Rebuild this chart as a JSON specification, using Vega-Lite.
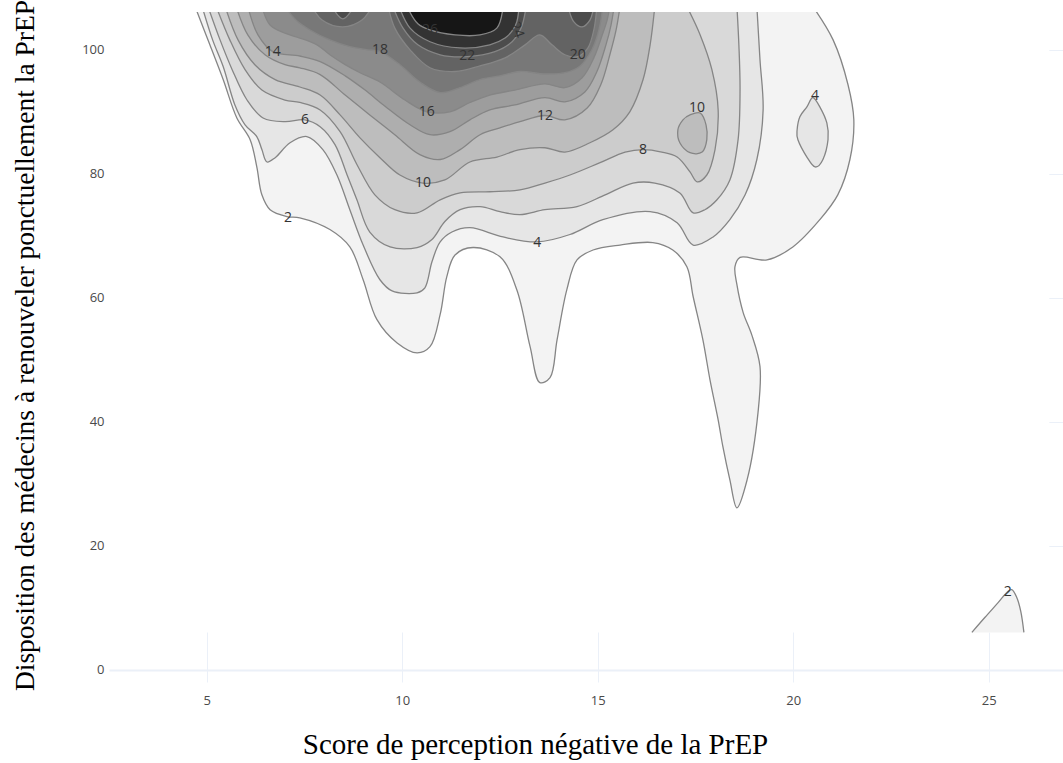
{
"$schema": "https://vega.github.io/schema/vega-lite/v6.json",
"width": 954, "height": 670,
"autosize": {"type": "none"},
"padding": {"left": 109, "top": 12, "right": 0, "bottom": 81},
"background": "white",
"config": {
 "view": {"stroke": null},
 "axis": {"domain": false, "ticks": false, "tickSize": 0, "grid": true, "gridColor": "#ebf0f8", "labelFont": "Open Sans", "labelFontSize": 13, "labelColor": "#4a4a4a", "titleFont": "Liberation Serif", "titleFontWeight": "normal", "titleColor": "#000000"},
 "axisX": {"labelPadding": 12, "titleX": 426, "titleY": 71, "titleAlign": "center", "titleBaseline": "alphabetic", "titleFontSize": 29},
 "axisY": {"labelPadding": 5, "titleX": -84, "titleY": 333, "titleAngle": -90, "titleAlign": "center", "titleBaseline": "middle", "titleFontSize": 27.5}
},
"datasets": {
 "region": [{"x": 2.5, "x2": 26.55, "y": 6, "y2": 106.1}],
 "contours": [
  {"p":"L02a","lv":2,"i":0,"x":4.70,"y":107},{"p":"L02a","lv":2,"i":1,"x":5.08,"y":100.8},{"p":"L02a","lv":2,"i":2,"x":5.42,"y":95.2},{"p":"L02a","lv":2,"i":3,"x":5.77,"y":89.0},{"p":"L02a","lv":2,"i":4,"x":6.11,"y":85.5},{"p":"L02a","lv":2,"i":5,"x":6.28,"y":81.1},{"p":"L02a","lv":2,"i":6,"x":6.41,"y":76.6},{"p":"L02a","lv":2,"i":7,"x":6.62,"y":74.2},{"p":"L02a","lv":2,"i":8,"x":7.05,"y":73.1},{"p":"L02a","lv":2,"i":9,"x":7.38,"y":72.9},{"p":"L02a","lv":2,"i":10,"x":8.15,"y":71.0},{"p":"L02a","lv":2,"i":11,"x":8.66,"y":68.2},{"p":"L02a","lv":2,"i":12,"x":9.00,"y":62.9},{"p":"L02a","lv":2,"i":13,"x":9.35,"y":56.5},{"p":"L02a","lv":2,"i":14,"x":9.87,"y":52.7},{"p":"L02a","lv":2,"i":15,"x":10.38,"y":51.1},{"p":"L02a","lv":2,"i":16,"x":10.71,"y":52.1},{"p":"L02a","lv":2,"i":17,"x":10.97,"y":57.3},{"p":"L02a","lv":2,"i":18,"x":11.14,"y":63.4},{"p":"L02a","lv":2,"i":19,"x":11.35,"y":66.9},{"p":"L02a","lv":2,"i":20,"x":11.81,"y":68.1},{"p":"L02a","lv":2,"i":21,"x":12.50,"y":66.6},{"p":"L02a","lv":2,"i":22,"x":12.93,"y":61.3},{"p":"L02a","lv":2,"i":23,"x":13.27,"y":52.1},{"p":"L02a","lv":2,"i":24,"x":13.52,"y":46.3},{"p":"L02a","lv":2,"i":25,"x":13.78,"y":47.1},{"p":"L02a","lv":2,"i":26,"x":13.96,"y":53.2},{"p":"L02a","lv":2,"i":27,"x":14.21,"y":61.3},{"p":"L02a","lv":2,"i":28,"x":14.47,"y":66.1},{"p":"L02a","lv":2,"i":29,"x":14.88,"y":67.7},{"p":"L02a","lv":2,"i":30,"x":15.57,"y":68.5},{"p":"L02a","lv":2,"i":31,"x":16.41,"y":68.9},{"p":"L02a","lv":2,"i":32,"x":16.92,"y":67.7},{"p":"L02a","lv":2,"i":33,"x":17.28,"y":65.0},{"p":"L02a","lv":2,"i":34,"x":17.44,"y":60.2},{"p":"L02a","lv":2,"i":35,"x":17.69,"y":53.2},{"p":"L02a","lv":2,"i":36,"x":17.87,"y":46.8},{"p":"L02a","lv":2,"i":37,"x":18.08,"y":40.3},{"p":"L02a","lv":2,"i":38,"x":18.20,"y":36.0},{"p":"L02a","lv":2,"i":39,"x":18.38,"y":30.6},{"p":"L02a","lv":2,"i":40,"x":18.56,"y":26.1},{"p":"L02a","lv":2,"i":41,"x":18.82,"y":30.6},{"p":"L02a","lv":2,"i":42,"x":19.10,"y":41.5},{"p":"L02a","lv":2,"i":43,"x":19.15,"y":48.9},{"p":"L02a","lv":2,"i":44,"x":18.94,"y":54.0},{"p":"L02a","lv":2,"i":45,"x":18.72,"y":57.6},{"p":"L02a","lv":2,"i":46,"x":18.56,"y":62.1},{"p":"L02a","lv":2,"i":47,"x":18.51,"y":65.0},{"p":"L02a","lv":2,"i":48,"x":18.64,"y":66.5},{"p":"L02a","lv":2,"i":49,"x":19.33,"y":66.1},{"p":"L02a","lv":2,"i":50,"x":19.99,"y":68.2},{"p":"L02a","lv":2,"i":51,"x":20.68,"y":72.6},{"p":"L02a","lv":2,"i":52,"x":21.14,"y":76.6},{"p":"L02a","lv":2,"i":53,"x":21.45,"y":82.3},{"p":"L02a","lv":2,"i":54,"x":21.55,"y":88.7},{"p":"L02a","lv":2,"i":55,"x":21.40,"y":94.4},{"p":"L02a","lv":2,"i":56,"x":21.02,"y":101.6},{"p":"L02a","lv":2,"i":57,"x":20.50,"y":107},
  {"p":"L02b","lv":2,"i":0,"x":24.57,"y":6.0},{"p":"L02b","lv":2,"i":1,"x":24.90,"y":8.4},{"p":"L02b","lv":2,"i":2,"x":25.24,"y":10.8},{"p":"L02b","lv":2,"i":3,"x":25.49,"y":12.6},{"p":"L02b","lv":2,"i":4,"x":25.59,"y":12.9},{"p":"L02b","lv":2,"i":5,"x":25.72,"y":11.6},{"p":"L02b","lv":2,"i":6,"x":25.82,"y":9.4},{"p":"L02b","lv":2,"i":7,"x":25.90,"y":6.0},
  {"p":"L04a","lv":4,"i":0,"x":4.88,"y":107},{"p":"L04a","lv":4,"i":1,"x":5.15,"y":101.6},{"p":"L04a","lv":4,"i":2,"x":5.42,"y":97.3},{"p":"L04a","lv":4,"i":3,"x":5.72,"y":91.1},{"p":"L04a","lv":4,"i":4,"x":5.98,"y":87.9},{"p":"L04a","lv":4,"i":5,"x":6.28,"y":86.0},{"p":"L04a","lv":4,"i":6,"x":6.41,"y":83.9},{"p":"L04a","lv":4,"i":7,"x":6.54,"y":81.9},{"p":"L04a","lv":4,"i":8,"x":6.75,"y":82.6},{"p":"L04a","lv":4,"i":9,"x":7.13,"y":85.0},{"p":"L04a","lv":4,"i":10,"x":7.56,"y":86.0},{"p":"L04a","lv":4,"i":11,"x":7.97,"y":83.9},{"p":"L04a","lv":4,"i":12,"x":8.33,"y":79.8},{"p":"L04a","lv":4,"i":13,"x":8.66,"y":74.2},{"p":"L04a","lv":4,"i":14,"x":9.00,"y":68.5},{"p":"L04a","lv":4,"i":15,"x":9.43,"y":62.9},{"p":"L04a","lv":4,"i":16,"x":9.74,"y":61.1},{"p":"L04a","lv":4,"i":17,"x":10.38,"y":60.8},{"p":"L04a","lv":4,"i":18,"x":10.58,"y":61.6},{"p":"L04a","lv":4,"i":19,"x":10.76,"y":65.8},{"p":"L04a","lv":4,"i":20,"x":10.97,"y":69.0},{"p":"L04a","lv":4,"i":21,"x":11.27,"y":70.6},{"p":"L04a","lv":4,"i":22,"x":11.73,"y":71.3},{"p":"L04a","lv":4,"i":23,"x":12.58,"y":69.8},{"p":"L04a","lv":4,"i":24,"x":13.45,"y":69.0},{"p":"L04a","lv":4,"i":25,"x":14.29,"y":70.2},{"p":"L04a","lv":4,"i":26,"x":15.13,"y":72.6},{"p":"L04a","lv":4,"i":27,"x":16.34,"y":73.9},{"p":"L04a","lv":4,"i":28,"x":17.03,"y":72.1},{"p":"L04a","lv":4,"i":29,"x":17.44,"y":68.5},{"p":"L04a","lv":4,"i":30,"x":17.95,"y":69.8},{"p":"L04a","lv":4,"i":31,"x":18.38,"y":72.6},{"p":"L04a","lv":4,"i":32,"x":18.77,"y":76.6},{"p":"L04a","lv":4,"i":33,"x":19.07,"y":82.3},{"p":"L04a","lv":4,"i":34,"x":19.23,"y":90.3},{"p":"L04a","lv":4,"i":35,"x":19.15,"y":98.4},{"p":"L04a","lv":4,"i":36,"x":19.07,"y":107},
  {"p":"L06a","lv":6,"i":0,"x":5.03,"y":107},{"p":"L06a","lv":6,"i":1,"x":5.34,"y":101.6},{"p":"L06a","lv":6,"i":2,"x":5.65,"y":96.8},{"p":"L06a","lv":6,"i":3,"x":6.03,"y":91.9},{"p":"L06a","lv":6,"i":4,"x":6.44,"y":89.0},{"p":"L06a","lv":6,"i":5,"x":7.00,"y":88.4},{"p":"L06a","lv":6,"i":6,"x":7.51,"y":88.7},{"p":"L06a","lv":6,"i":7,"x":7.90,"y":87.6},{"p":"L06a","lv":6,"i":8,"x":8.28,"y":84.7},{"p":"L06a","lv":6,"i":9,"x":8.59,"y":79.8},{"p":"L06a","lv":6,"i":10,"x":8.84,"y":75.8},{"p":"L06a","lv":6,"i":11,"x":9.17,"y":70.6},{"p":"L06a","lv":6,"i":12,"x":9.69,"y":68.2},{"p":"L06a","lv":6,"i":13,"x":10.38,"y":68.1},{"p":"L06a","lv":6,"i":14,"x":10.76,"y":69.4},{"p":"L06a","lv":6,"i":15,"x":11.09,"y":72.3},{"p":"L06a","lv":6,"i":16,"x":11.48,"y":74.2},{"p":"L06a","lv":6,"i":17,"x":11.99,"y":74.7},{"p":"L06a","lv":6,"i":18,"x":12.50,"y":73.9},{"p":"L06a","lv":6,"i":19,"x":13.01,"y":73.4},{"p":"L06a","lv":6,"i":20,"x":13.65,"y":74.2},{"p":"L06a","lv":6,"i":21,"x":14.47,"y":74.7},{"p":"L06a","lv":6,"i":22,"x":15.19,"y":76.6},{"p":"L06a","lv":6,"i":23,"x":15.90,"y":78.5},{"p":"L06a","lv":6,"i":24,"x":16.46,"y":78.5},{"p":"L06a","lv":6,"i":25,"x":17.10,"y":76.9},{"p":"L06a","lv":6,"i":26,"x":17.44,"y":73.7},{"p":"L06a","lv":6,"i":27,"x":17.74,"y":74.2},{"p":"L06a","lv":6,"i":28,"x":18.05,"y":75.8},{"p":"L06a","lv":6,"i":29,"x":18.38,"y":79.0},{"p":"L06a","lv":6,"i":30,"x":18.59,"y":85.5},{"p":"L06a","lv":6,"i":31,"x":18.64,"y":93.5},{"p":"L06a","lv":6,"i":32,"x":18.61,"y":100.8},{"p":"L06a","lv":6,"i":33,"x":18.56,"y":107},
  {"p":"L08a","lv":8,"i":0,"x":5.24,"y":107},{"p":"L08a","lv":8,"i":1,"x":5.59,"y":101.6},{"p":"L08a","lv":8,"i":2,"x":5.98,"y":96.8},{"p":"L08a","lv":8,"i":3,"x":6.41,"y":93.5},{"p":"L08a","lv":8,"i":4,"x":7.00,"y":91.9},{"p":"L08a","lv":8,"i":5,"x":7.38,"y":91.5},{"p":"L08a","lv":8,"i":6,"x":7.90,"y":90.3},{"p":"L08a","lv":8,"i":7,"x":8.41,"y":86.8},{"p":"L08a","lv":8,"i":8,"x":8.84,"y":81.5},{"p":"L08a","lv":8,"i":9,"x":9.30,"y":76.6},{"p":"L08a","lv":8,"i":10,"x":9.81,"y":74.2},{"p":"L08a","lv":8,"i":11,"x":10.38,"y":73.7},{"p":"L08a","lv":8,"i":12,"x":10.97,"y":75.8},{"p":"L08a","lv":8,"i":13,"x":11.48,"y":76.9},{"p":"L08a","lv":8,"i":14,"x":12.24,"y":77.1},{"p":"L08a","lv":8,"i":15,"x":13.01,"y":77.4},{"p":"L08a","lv":8,"i":16,"x":13.65,"y":78.5},{"p":"L08a","lv":8,"i":17,"x":14.29,"y":79.8},{"p":"L08a","lv":8,"i":18,"x":15.06,"y":81.8},{"p":"L08a","lv":8,"i":19,"x":15.70,"y":83.5},{"p":"L08a","lv":8,"i":20,"x":16.16,"y":83.9},{"p":"L08a","lv":8,"i":21,"x":16.64,"y":83.5},{"p":"L08a","lv":8,"i":22,"x":17.03,"y":82.7},{"p":"L08a","lv":8,"i":23,"x":17.36,"y":80.3},{"p":"L08a","lv":8,"i":24,"x":17.54,"y":78.7},{"p":"L08a","lv":8,"i":25,"x":17.79,"y":79.8},{"p":"L08a","lv":8,"i":26,"x":18.00,"y":83.9},{"p":"L08a","lv":8,"i":27,"x":18.08,"y":90.3},{"p":"L08a","lv":8,"i":28,"x":17.92,"y":96.8},{"p":"L08a","lv":8,"i":29,"x":17.62,"y":102.4},{"p":"L08a","lv":8,"i":30,"x":17.28,"y":107},
  {"p":"L10a","lv":10,"i":0,"x":5.47,"y":107},{"p":"L10a","lv":10,"i":1,"x":5.80,"y":101.6},{"p":"L10a","lv":10,"i":2,"x":6.23,"y":97.6},{"p":"L10a","lv":10,"i":3,"x":6.75,"y":95.2},{"p":"L10a","lv":10,"i":4,"x":7.38,"y":94.0},{"p":"L10a","lv":10,"i":5,"x":7.90,"y":92.7},{"p":"L10a","lv":10,"i":6,"x":8.41,"y":89.5},{"p":"L10a","lv":10,"i":7,"x":8.92,"y":85.8},{"p":"L10a","lv":10,"i":8,"x":9.43,"y":82.6},{"p":"L10a","lv":10,"i":9,"x":9.94,"y":79.8},{"p":"L10a","lv":10,"i":10,"x":10.53,"y":78.5},{"p":"L10a","lv":10,"i":11,"x":11.09,"y":79.0},{"p":"L10a","lv":10,"i":12,"x":11.73,"y":81.9},{"p":"L10a","lv":10,"i":13,"x":12.42,"y":82.7},{"p":"L10a","lv":10,"i":14,"x":13.01,"y":83.9},{"p":"L10a","lv":10,"i":15,"x":13.65,"y":84.2},{"p":"L10a","lv":10,"i":16,"x":14.16,"y":83.5},{"p":"L10a","lv":10,"i":17,"x":14.80,"y":85.0},{"p":"L10a","lv":10,"i":18,"x":15.39,"y":87.1},{"p":"L10a","lv":10,"i":19,"x":15.82,"y":90.0},{"p":"L10a","lv":10,"i":20,"x":16.16,"y":95.2},{"p":"L10a","lv":10,"i":21,"x":16.34,"y":100.8},{"p":"L10a","lv":10,"i":22,"x":16.46,"y":107},
  {"p":"L12a","lv":12,"i":0,"x":5.75,"y":107},{"p":"L12a","lv":12,"i":1,"x":6.05,"y":102.4},{"p":"L12a","lv":12,"i":2,"x":6.49,"y":99.2},{"p":"L12a","lv":12,"i":3,"x":7.00,"y":97.6},{"p":"L12a","lv":12,"i":4,"x":7.38,"y":97.1},{"p":"L12a","lv":12,"i":5,"x":7.90,"y":96.0},{"p":"L12a","lv":12,"i":6,"x":8.54,"y":92.7},{"p":"L12a","lv":12,"i":7,"x":9.17,"y":89.5},{"p":"L12a","lv":12,"i":8,"x":9.81,"y":86.3},{"p":"L12a","lv":12,"i":9,"x":10.45,"y":83.1},{"p":"L12a","lv":12,"i":10,"x":10.97,"y":82.3},{"p":"L12a","lv":12,"i":11,"x":11.48,"y":83.9},{"p":"L12a","lv":12,"i":12,"x":11.99,"y":86.3},{"p":"L12a","lv":12,"i":13,"x":12.50,"y":87.4},{"p":"L12a","lv":12,"i":14,"x":13.01,"y":88.4},{"p":"L12a","lv":12,"i":15,"x":13.65,"y":89.4},{"p":"L12a","lv":12,"i":16,"x":14.16,"y":88.7},{"p":"L12a","lv":12,"i":17,"x":14.73,"y":90.6},{"p":"L12a","lv":12,"i":18,"x":15.08,"y":94.4},{"p":"L12a","lv":12,"i":19,"x":15.31,"y":99.2},{"p":"L12a","lv":12,"i":20,"x":15.47,"y":103.2},{"p":"L12a","lv":12,"i":21,"x":15.57,"y":107},
  {"p":"L14a","lv":14,"i":0,"x":6.05,"y":107},{"p":"L14a","lv":14,"i":1,"x":6.31,"y":102.4},{"p":"L14a","lv":14,"i":2,"x":6.69,"y":99.7},{"p":"L14a","lv":14,"i":3,"x":7.38,"y":99.0},{"p":"L14a","lv":14,"i":4,"x":7.90,"y":98.1},{"p":"L14a","lv":14,"i":5,"x":8.54,"y":95.8},{"p":"L14a","lv":14,"i":6,"x":9.05,"y":93.5},{"p":"L14a","lv":14,"i":7,"x":9.56,"y":90.9},{"p":"L14a","lv":14,"i":8,"x":10.20,"y":87.9},{"p":"L14a","lv":14,"i":9,"x":10.71,"y":86.3},{"p":"L14a","lv":14,"i":10,"x":11.22,"y":86.8},{"p":"L14a","lv":14,"i":11,"x":11.73,"y":88.7},{"p":"L14a","lv":14,"i":12,"x":12.24,"y":90.3},{"p":"L14a","lv":14,"i":13,"x":12.88,"y":91.1},{"p":"L14a","lv":14,"i":14,"x":13.65,"y":92.3},{"p":"L14a","lv":14,"i":15,"x":14.16,"y":91.6},{"p":"L14a","lv":14,"i":16,"x":14.67,"y":93.2},{"p":"L14a","lv":14,"i":17,"x":14.98,"y":96.5},{"p":"L14a","lv":14,"i":18,"x":15.21,"y":100.8},{"p":"L14a","lv":14,"i":19,"x":15.34,"y":104.0},{"p":"L14a","lv":14,"i":20,"x":15.42,"y":107},
  {"p":"L16a","lv":16,"i":0,"x":6.41,"y":107},{"p":"L16a","lv":16,"i":1,"x":6.62,"y":104.0},{"p":"L16a","lv":16,"i":2,"x":7.00,"y":102.7},{"p":"L16a","lv":16,"i":3,"x":7.38,"y":101.9},{"p":"L16a","lv":16,"i":4,"x":7.82,"y":100.8},{"p":"L16a","lv":16,"i":5,"x":8.15,"y":99.2},{"p":"L16a","lv":16,"i":6,"x":8.54,"y":97.6},{"p":"L16a","lv":16,"i":7,"x":8.92,"y":96.3},{"p":"L16a","lv":16,"i":8,"x":9.43,"y":94.8},{"p":"L16a","lv":16,"i":9,"x":10.07,"y":91.9},{"p":"L16a","lv":16,"i":10,"x":10.63,"y":90.0},{"p":"L16a","lv":16,"i":11,"x":11.22,"y":90.0},{"p":"L16a","lv":16,"i":12,"x":11.73,"y":91.5},{"p":"L16a","lv":16,"i":13,"x":12.24,"y":92.7},{"p":"L16a","lv":16,"i":14,"x":12.88,"y":93.5},{"p":"L16a","lv":16,"i":15,"x":13.65,"y":94.5},{"p":"L16a","lv":16,"i":16,"x":14.16,"y":93.9},{"p":"L16a","lv":16,"i":17,"x":14.60,"y":95.5},{"p":"L16a","lv":16,"i":18,"x":14.90,"y":98.7},{"p":"L16a","lv":16,"i":19,"x":15.11,"y":102.3},{"p":"L16a","lv":16,"i":20,"x":15.24,"y":104.8},{"p":"L16a","lv":16,"i":21,"x":15.31,"y":107},
  {"p":"L18a","lv":18,"i":0,"x":7.00,"y":107},{"p":"L18a","lv":18,"i":1,"x":7.28,"y":104.8},{"p":"L18a","lv":18,"i":2,"x":7.64,"y":103.2},{"p":"L18a","lv":18,"i":3,"x":8.15,"y":101.6},{"p":"L18a","lv":18,"i":4,"x":8.66,"y":100.5},{"p":"L18a","lv":18,"i":5,"x":9.10,"y":100.0},{"p":"L18a","lv":18,"i":6,"x":9.43,"y":99.7},{"p":"L18a","lv":18,"i":7,"x":9.94,"y":97.6},{"p":"L18a","lv":18,"i":8,"x":10.45,"y":94.8},{"p":"L18a","lv":18,"i":9,"x":10.97,"y":93.1},{"p":"L18a","lv":18,"i":10,"x":11.48,"y":93.9},{"p":"L18a","lv":18,"i":11,"x":11.99,"y":95.2},{"p":"L18a","lv":18,"i":12,"x":12.50,"y":95.8},{"p":"L18a","lv":18,"i":13,"x":13.01,"y":96.5},{"p":"L18a","lv":18,"i":14,"x":13.65,"y":96.1},{"p":"L18a","lv":18,"i":15,"x":14.16,"y":96.3},{"p":"L18a","lv":18,"i":16,"x":14.55,"y":97.4},{"p":"L18a","lv":18,"i":17,"x":14.85,"y":100.0},{"p":"L18a","lv":18,"i":18,"x":15.03,"y":103.2},{"p":"L18a","lv":18,"i":19,"x":15.13,"y":107},
  {"p":"L20a","lv":20,"i":0,"x":9.64,"y":107},{"p":"L20a","lv":20,"i":1,"x":9.81,"y":103.5},{"p":"L20a","lv":20,"i":2,"x":10.20,"y":100.0},{"p":"L20a","lv":20,"i":3,"x":10.71,"y":97.1},{"p":"L20a","lv":20,"i":4,"x":11.35,"y":96.5},{"p":"L20a","lv":20,"i":5,"x":11.99,"y":97.4},{"p":"L20a","lv":20,"i":6,"x":12.63,"y":98.7},{"p":"L20a","lv":20,"i":7,"x":13.14,"y":100.8},{"p":"L20a","lv":20,"i":8,"x":13.52,"y":102.4},{"p":"L20a","lv":20,"i":9,"x":13.83,"y":100.8},{"p":"L20a","lv":20,"i":10,"x":14.16,"y":99.2},{"p":"L20a","lv":20,"i":11,"x":14.49,"y":98.9},{"p":"L20a","lv":20,"i":12,"x":14.75,"y":100.3},{"p":"L20a","lv":20,"i":13,"x":14.90,"y":103.2},{"p":"L20a","lv":20,"i":14,"x":14.98,"y":107},
  {"p":"L20b","lv":20,"i":0,"x":7.69,"y":107},{"p":"L20b","lv":20,"i":1,"x":7.95,"y":104.8},{"p":"L20b","lv":20,"i":2,"x":8.48,"y":103.7},{"p":"L20b","lv":20,"i":3,"x":8.97,"y":104.8},{"p":"L20b","lv":20,"i":4,"x":9.23,"y":107},
  {"p":"L22a","lv":22,"i":0,"x":9.76,"y":107},{"p":"L22a","lv":22,"i":1,"x":10.02,"y":103.5},{"p":"L22a","lv":22,"i":2,"x":10.40,"y":100.8},{"p":"L22a","lv":22,"i":3,"x":10.97,"y":99.2},{"p":"L22a","lv":22,"i":4,"x":11.66,"y":98.9},{"p":"L22a","lv":22,"i":5,"x":12.37,"y":99.7},{"p":"L22a","lv":22,"i":6,"x":12.81,"y":101.3},{"p":"L22a","lv":22,"i":7,"x":13.04,"y":103.5},{"p":"L22a","lv":22,"i":8,"x":13.17,"y":107},
  {"p":"L22b","lv":22,"i":0,"x":8.20,"y":107},{"p":"L22b","lv":22,"i":1,"x":8.48,"y":105.0},{"p":"L22b","lv":22,"i":2,"x":8.77,"y":107},
  {"p":"L22c","lv":22,"i":0,"x":14.24,"y":107},{"p":"L22c","lv":22,"i":1,"x":14.39,"y":104.5},{"p":"L22c","lv":22,"i":2,"x":14.60,"y":103.7},{"p":"L22c","lv":22,"i":3,"x":14.80,"y":104.8},{"p":"L22c","lv":22,"i":4,"x":14.90,"y":107},
  {"p":"L24a","lv":24,"i":0,"x":9.92,"y":107},{"p":"L24a","lv":24,"i":1,"x":10.20,"y":103.5},{"p":"L24a","lv":24,"i":2,"x":10.71,"y":101.3},{"p":"L24a","lv":24,"i":3,"x":11.48,"y":100.3},{"p":"L24a","lv":24,"i":4,"x":12.24,"y":100.8},{"p":"L24a","lv":24,"i":5,"x":12.63,"y":101.9},{"p":"L24a","lv":24,"i":6,"x":12.83,"y":103.2},{"p":"L24a","lv":24,"i":7,"x":12.93,"y":104.5},{"p":"L24a","lv":24,"i":8,"x":12.99,"y":107},
  {"p":"L26a","lv":26,"i":0,"x":10.12,"y":107},{"p":"L26a","lv":26,"i":1,"x":10.40,"y":104.2},{"p":"L26a","lv":26,"i":2,"x":10.71,"y":103.2},{"p":"L26a","lv":26,"i":3,"x":11.35,"y":102.4},{"p":"L26a","lv":26,"i":4,"x":11.99,"y":102.4},{"p":"L26a","lv":26,"i":5,"x":12.42,"y":103.5},{"p":"L26a","lv":26,"i":6,"x":12.58,"y":107}
 ],
 "islands": [
  {"p":"I10","lv":10,"i":0,"x":17.36,"y":89.5},{"p":"I10","lv":10,"i":1,"x":17.62,"y":89.8},{"p":"I10","lv":10,"i":2,"x":17.77,"y":87.9},{"p":"I10","lv":10,"i":3,"x":17.79,"y":85.5},{"p":"I10","lv":10,"i":4,"x":17.67,"y":83.5},{"p":"I10","lv":10,"i":5,"x":17.36,"y":83.4},{"p":"I10","lv":10,"i":6,"x":17.10,"y":85.0},{"p":"I10","lv":10,"i":7,"x":17.05,"y":87.1},{"p":"I10","lv":10,"i":8,"x":17.18,"y":88.7},
  {"p":"I04","lv":4,"i":0,"x":20.50,"y":92.3},{"p":"I04","lv":4,"i":1,"x":20.68,"y":90.8},{"p":"I04","lv":4,"i":2,"x":20.86,"y":88.2},{"p":"I04","lv":4,"i":3,"x":20.89,"y":85.5},{"p":"I04","lv":4,"i":4,"x":20.76,"y":82.3},{"p":"I04","lv":4,"i":5,"x":20.56,"y":81.1},{"p":"I04","lv":4,"i":6,"x":20.35,"y":82.7},{"p":"I04","lv":4,"i":7,"x":20.12,"y":85.5},{"p":"I04","lv":4,"i":8,"x":20.10,"y":87.1},{"p":"I04","lv":4,"i":9,"x":20.17,"y":89.2},{"p":"I04","lv":4,"i":10,"x":20.35,"y":90.8}
 ],
 "labels": [
  {"t":"2","x":7.08,"y":72.9},{"t":"4","x":13.45,"y":68.9},{"t":"6","x":7.51,"y":88.7},{"t":"8","x":16.16,"y":83.9},{"t":"10","x":10.53,"y":78.5},{"t":"12","x":13.65,"y":89.4},{"t":"14","x":6.69,"y":99.7},{"t":"16","x":10.63,"y":90.0},{"t":"18","x":9.43,"y":100.0},{"t":"20","x":14.49,"y":99.2},{"t":"22","x":11.66,"y":99.0},{"t":"24","x":12.93,"y":103.2},{"t":"26","x":10.71,"y":103.2},{"t":"10","x":17.54,"y":90.6},{"t":"4","x":20.56,"y":92.6},{"t":"2","x":25.49,"y":12.6}
 ]
},
"layer": [
 {
  "data": {"name": "region"},
  "mark": {"type": "rect", "fill": "white", "stroke": null},
  "encoding": {
   "x": {"field": "x", "type": "quantitative", "scale": {"domain": [2.5, 26.9], "nice": false, "zero": false},
         "axis": {"title": "Score de perception négative de la PrEP", "values": [5, 10, 15, 20, 25]}},
   "x2": {"field": "x2"},
   "y": {"field": "y", "type": "quantitative", "scale": {"domain": [-2, 106.1], "nice": false, "zero": false},
         "axis": {"title": "Disposition des médecins à renouveler ponctuellement la  PrEP", "values": [0, 20, 40, 60, 80, 100],
                  "gridWidth": {"condition": {"test": "datum.value === 0", "value": 2}, "value": 1}}},
   "y2": {"field": "y2"}
  }
 },
 {
  "data": {"name": "contours"},
  "mark": {"type": "line", "interpolate": "catmull-rom", "stroke": "#858585", "strokeWidth": 1.3, "clip": true},
  "encoding": {
   "x": {"field": "x", "type": "quantitative"},
   "y": {"field": "y", "type": "quantitative"},
   "detail": {"field": "p", "type": "nominal"},
   "order": {"field": "i", "type": "quantitative"},
   "fill": {"field": "lv", "type": "ordinal", "legend": null,
            "scale": {"domain": [2,4,6,8,10,12,14,16,18,20,22,24,26],
                      "range": ["#f3f3f3","#e6e6e6","#d9d9d9","#cccccc","#bdbdbd","#aeaeae","#9d9d9d","#8b8b8b","#787878","#636363","#4c4c4c","#333333","#161616"]}}
  }
 },
 {
  "data": {"name": "islands"},
  "mark": {"type": "line", "interpolate": "cardinal-closed", "stroke": "#858585", "strokeWidth": 1.3, "clip": true},
  "encoding": {
   "x": {"field": "x", "type": "quantitative"},
   "y": {"field": "y", "type": "quantitative"},
   "detail": {"field": "p", "type": "nominal"},
   "order": {"field": "i", "type": "quantitative"},
   "fill": {"field": "lv", "type": "ordinal", "legend": null}
  }
 },
 {
  "data": {"name": "labels"},
  "transform": [{"filter": "datum.t !== '24'"}],
  "mark": {"type": "text", "font": "Open Sans", "fontSize": 14, "fill": "#333333", "align": "center", "baseline": "middle"},
  "encoding": {
   "x": {"field": "x", "type": "quantitative"},
   "y": {"field": "y", "type": "quantitative"},
   "text": {"field": "t"}
  }
 },
 {
  "data": {"name": "labels"},
  "transform": [{"filter": "datum.t === '24'"}],
  "mark": {"type": "text", "font": "Open Sans", "fontSize": 14, "fill": "#333333", "align": "center", "baseline": "middle", "angle": 70},
  "encoding": {
   "x": {"field": "x", "type": "quantitative"},
   "y": {"field": "y", "type": "quantitative"},
   "text": {"field": "t"}
  }
 }
]
}
